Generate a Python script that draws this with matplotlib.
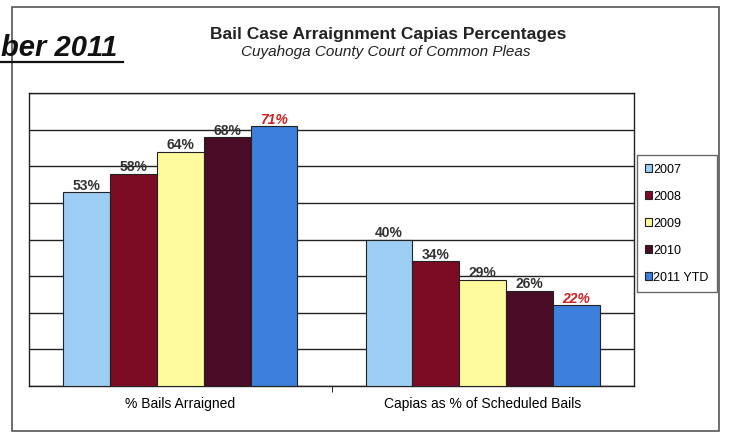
import numpy as np
import matplotlib.pyplot as plt
from matplotlib.patches import Rectangle

plt.rcParams['font.family'] = ['Liberation Sans Narrow', 'Liberation Sans', 'DejaVu Sans']

categories = ['% Bails Arraigned', 'Capias as % of Scheduled Bails']
years = ['2007', '2008', '2009', '2010', '2011 YTD']
values = {
    '2007': [53, 40],
    '2008': [58, 34],
    '2009': [64, 29],
    '2010': [68, 26],
    '2011 YTD': [71, 22],
}
colors = ['#9ccdf2', '#7c0b24', '#fdfb9c', '#4a0b26', '#3d80dc']

fig = plt.figure(figsize=(7.35, 4.39), dpi=100)

# outer slide frame
fig.patches.append(Rectangle((12 / 735, 1 - 432 / 439), 707 / 735, 424 / 439,
                             transform=fig.transFigure, fill=False,
                             edgecolor='#555555', linewidth=1.2))

ax = fig.add_axes([29 / 735, 1 - 387 / 439, 605 / 735, 293 / 439])

x = np.arange(len(categories))
w = 0.155
for i, yr in enumerate(years):
    pos = x + (i - 2) * w
    ax.bar(pos, values[yr], w, color=colors[i], edgecolor='#222222',
           linewidth=0.8, label=yr, zorder=3)
    for p, v in zip(pos, values[yr]):
        red = yr == '2011 YTD'
        ax.text(p, v + 2.0, f'{v}%', ha='center', va='center', fontsize=10,
                fontweight='bold', color='#cc2222' if red else '#333333',
                style='italic' if red else 'normal')

ax.set_ylim(0, 80)
ax.set_xlim(-0.5, 1.5)
ax.set_yticks(np.arange(0, 81, 10))
ax.yaxis.grid(True, color='#222222', linewidth=1.0, zorder=0)
ax.tick_params(axis='y', left=False, labelleft=False)
ax.set_xticks([0.5], minor=True)
ax.set_xticks(x)
ax.set_xticklabels(categories, fontsize=10)
ax.tick_params(axis='x', which='major', length=0, pad=7)
ax.tick_params(axis='x', which='minor', length=4, direction='out')
for s in ax.spines.values():
    s.set_color('#222222')
    s.set_linewidth(1.0)

leg = ax.legend(loc='upper left', bbox_to_anchor=(0.998, 0.80), fontsize=9,
                frameon=True, fancybox=False, edgecolor='#444444',
                handlelength=0.55, handleheight=0.55, handletextpad=0.15,
                labelspacing=1.2, borderpad=0.65, borderaxespad=0.3)
leg.get_frame().set_linewidth(1.0)

fig.text(388 / 735, 1 - 35 / 439, 'Bail Case Arraignment Capias Percentages',
         ha='center', va='center', fontsize=12.5, fontweight='bold', color='#222222')
fig.text(386 / 735, 1 - 52 / 439, 'Cuyahoga County Court of Common Pleas',
         ha='center', va='center', fontsize=11, style='italic', color='#222222')

fig.text(1 / 735, 1 - 48 / 439, 'ber 2011', ha='left', va='center',
         family='Liberation Sans', fontsize=21, fontweight='bold',
         style='italic', color='#111111')
fig.add_artist(plt.Line2D([0, 123 / 735], [1 - 63 / 439, 1 - 63 / 439],
                          color='#111111', linewidth=1.6, transform=fig.transFigure))

fig.savefig('out.png', dpi=100)
